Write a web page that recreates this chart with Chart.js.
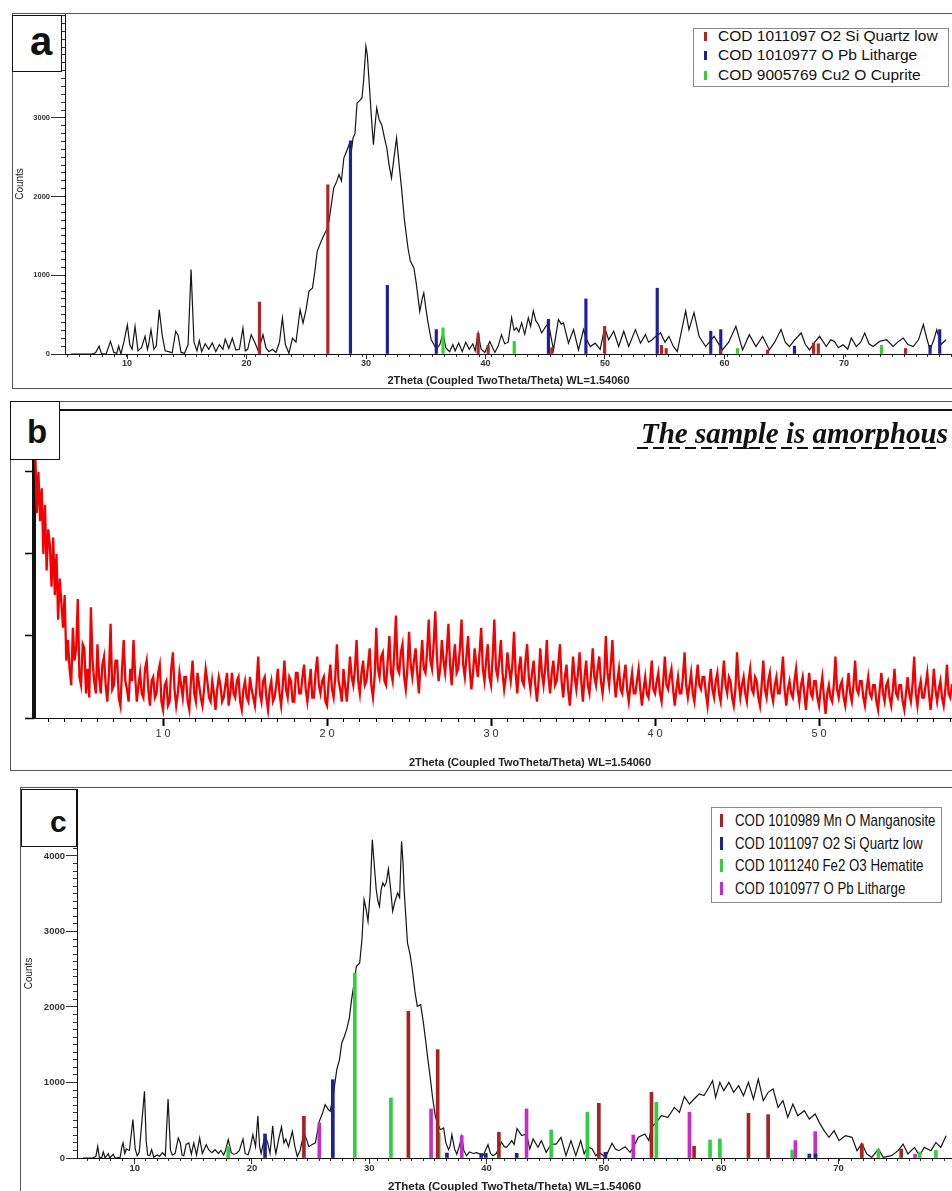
<!DOCTYPE html>
<html>
<head>
<meta charset="utf-8">
<script src="https://cdn.jsdelivr.net/npm/chart.js@4.4.1/dist/chart.umd.min.js"></script>
<style>
html, body { margin: 0; padding: 0; background: #fff; width: 952px; height: 1191px; overflow: hidden; }
.frame { position: absolute; border: 1px solid #555; box-sizing: border-box; }
canvas { position: absolute; z-index: 1; }
.tag { position: absolute; border: 1.5px solid #111; background: #fff; box-sizing: border-box; z-index: 3; }
.letter { position: absolute; font-family: "Liberation Sans", Arial, sans-serif; font-weight: bold; line-height: 1; color: #111; z-index: 4; }
.legend { position: absolute; background: #fff; border: 1px solid #8a8a8a; box-sizing: border-box; z-index: 3; }
.legend div { position: absolute; white-space: nowrap; transform-origin: 0 50%; }
</style>
</head>
<body>

<!-- panel a -->
<div class="frame" style="left:12px;top:13px;width:1000px;height:376px"></div>
<canvas id="chartA" width="940" height="375" style="left:12px;top:13px"></canvas>
<div class="tag" style="left:12px;top:15px;width:50px;height:57px"></div>
<div class="letter" style="left:30px;top:21px;font-size:40px">a</div>
<div class="legend" id="legendA" style="left:693px;top:28px;width:256px;height:59px"></div>

<!-- panel b -->
<div class="frame" style="left:10px;top:401px;width:1000px;height:370px"></div>
<canvas id="chartB" width="1016" height="370" style="left:10px;top:401px"></canvas>
<div style="position:absolute;left:34px;top:409px;width:960px;height:2px;background:#111;z-index:2"></div>
<div class="tag" style="left:10px;top:401px;width:50px;height:59px"></div>
<div class="letter" style="left:27px;top:415px;font-size:33px">b</div>
<div style="position:absolute;left:641px;top:419px;font:italic bold 29px/29px 'Liberation Serif','Times New Roman',serif;color:#111;white-space:nowrap;z-index:2">The sample is amorphous</div>
<div style="position:absolute;left:637px;top:447px;width:304px;height:2px;background:repeating-linear-gradient(to right,#111 0 11px,transparent 11px 16px);z-index:2"></div>

<!-- panel c -->
<div class="frame" style="left:20px;top:787px;width:1000px;height:500px"></div>
<canvas id="chartC" width="932" height="411" style="left:20px;top:787px"></canvas>
<div class="tag" style="left:21px;top:789px;width:56px;height:58px"></div>
<div class="letter" style="left:50px;top:807px;font-size:30px">c</div>
<div class="legend" id="legendC" style="left:711px;top:807px;width:231px;height:96px"></div>

<script>
// ---- panel a : measured pattern [2theta, counts] and reference sticks ----
const aPattern = [
  [4.81,0],[6.6,0],[6.9,15],[7.2,100],[7.4,5],[7.8,0],[8.16,160],[8.45,20],[8.7,10],[8.86,100],
  [9.05,0],[9.3,150],[9.6,370],[9.8,120],[10.0,60],[10.25,350],[10.5,40],[10.8,80],[11.1,225],[11.3,60],
  [11.4,120],[11.6,310],[11.85,60],[12.05,100],[12.3,563],[12.55,240],[12.8,40],[13.1,30],[13.4,15],[13.7,290],
  [13.9,240],[14.15,20],[14.45,10],[14.75,120],[15.0,1072],[15.25,150],[15.5,40],[15.7,170],[15.9,30],[16.2,130],
  [16.5,60],[16.8,140],[17.1,30],[17.4,120],[17.7,60],[17.9,190],[18.2,70],[18.5,200],[18.8,50],[19.1,60],
  [19.4,330],[19.6,40],[19.8,60],[20.1,245],[20.4,150],[20.7,40],[21.1,245],[21.35,80],[21.6,30],[21.9,60],
  [22.2,20],[22.5,150],[22.75,457],[23.0,120],[23.3,10],[23.6,200],[23.9,150],[24.25,563],[24.5,394],[24.75,560],
  [25.0,796],[25.3,840],[25.5,1050],[25.7,1305],[26.0,1420],[26.3,1517],[26.5,1580],[26.7,1686],[26.9,1900],[27.1,2110],
  [27.35,2190],[27.55,2279],[27.75,2200],[27.96,2490],[28.2,2580],[28.4,2660],[28.6,2580],[28.74,2745],[28.9,2800],[29.08,3190],
  [29.3,3220],[29.5,3253],[29.65,3500],[29.83,3910],[29.95,3800],[30.1,3465],[30.3,3000],[30.47,2660],[30.6,2900],[30.75,3126],
  [30.95,2980],[31.17,2914],[31.4,2750],[31.6,2618],[31.8,2400],[32.0,2237],[32.2,2480],[32.43,2745],[32.65,2400],[32.85,2110],
  [33.1,1700],[33.4,1347],[33.6,1180],[33.9,1093],[34.1,900],[34.4,542],[34.6,700],[34.74,775],[34.9,600],[35.08,415],
  [35.37,181],[35.6,120],[35.8,60],[36.1,120],[36.37,267],[36.6,80],[36.93,30],[37.2,120],[37.4,40],[37.7,140],
  [38.0,30],[38.3,150],[38.6,60],[38.9,130],[39.1,40],[39.35,267],[39.6,60],[39.91,20],[40.34,160],[40.77,20],
  [41.05,100],[41.33,246],[41.6,130],[41.9,150],[42.19,461],[42.4,300],[42.61,332],[42.8,280],[43.04,396],[43.3,250],
  [43.61,461],[43.8,350],[44.03,547],[44.25,420],[44.46,375],[44.74,267],[45.0,330],[45.31,396],[45.74,52],[46.16,440],
  [46.4,380],[46.59,396],[47.01,138],[47.44,310],[47.86,52],[48.29,310],[48.5,200],[48.86,95],[49.28,138],[49.7,60],
  [50.08,332],[50.42,181],[50.85,289],[51.27,95],[51.7,289],[52.12,95],[52.69,310],[53.12,138],[53.54,246],[53.8,150],
  [54.11,181],[54.45,230],[54.82,267],[55.2,150],[55.53,224],[55.9,100],[56.24,30],[56.95,547],[57.23,310],[57.66,526],
  [58.09,224],[58.65,95],[59.36,224],[60.07,52],[60.6,150],[61.21,353],[61.78,52],[62.35,246],[62.91,95],[63.48,224],
  [64.05,52],[64.5,150],[65.04,310],[65.4,150],[65.75,95],[66.2,180],[66.75,267],[67.1,120],[67.46,52],[67.9,150],
  [68.31,224],[68.88,95],[69.25,180],[69.58,160],[69.9,80],[70.3,116],[70.7,60],[71.0,203],[71.43,95],[71.8,150],
  [72.14,267],[72.5,130],[72.85,95],[73.4,160],[73.99,181],[74.55,95],[75.0,160],[75.41,203],[75.8,120],[76.26,95],
  [76.7,180],[77.11,375],[77.4,200],[77.68,52],[78.0,180],[78.25,310],[78.6,120],[79.04,181]
];
const aQuartz = [[20.8,660],[26.6,2150],[39.35,260],[40.2,110],[45.6,80],[50.08,350],[54.9,110],[55.3,70],[59.9,60],[63.9,50],[67.8,140],[68.2,130],[75.6,70]];
const aLitharge = [[28.52,2710],[31.65,872],[35.8,310],[45.31,440],[48.49,700],[54.54,836],[59.08,290],[59.93,310],[66.18,100],[77.68,110],[78.5,310]];
const aCuprite = [[36.37,332],[42.41,160],[61.35,70],[73.56,110]];
const aPhases = ['COD 1011097 O2 Si Quartz low', 'COD 1010977 O Pb Litharge', 'COD 9005769 Cu2 O Cuprite'];
const aXTicks = [10, 20, 30, 40, 50, 60, 70];
const aYTicks = [0, 1000, 2000, 3000, 4000];

// ---- panel b : amorphous scan, counts every 0.1 deg starting at 2.2 ----
const bStart = 2.2, bStep = 0.1;
const bCounts = [
  330,250,300,240,280,200,260,180,230,210,
  160,220,150,200,120,170,140,110,150,70,
  95,60,40,110,70,85,145,50,40,90,
  85,30,60,25,135,70,45,30,90,50,
  30,65,75,40,20,55,115,35,40,70,
  70,25,15,60,95,45,35,20,60,45,
  95,50,20,40,55,30,25,60,70,35,
  15,45,50,25,30,55,65,20,10,40,
  45,15,20,60,80,35,15,30,55,40,
  25,50,50,20,10,45,70,30,20,55,
  40,25,15,35,60,45,25,20,45,30,
  10,35,50,40,20,25,40,55,15,30,
  55,30,25,45,50,20,10,35,45,25,
  20,50,35,25,15,40,75,30,20,45,
  50,25,10,35,45,20,25,40,60,30,
  15,40,70,35,25,50,45,20,20,55,
  55,30,30,50,65,35,20,40,60,25,
  25,55,75,40,30,45,50,20,15,45,
  65,35,25,50,90,45,35,20,60,40,
  20,45,75,50,40,60,95,45,30,55,
  70,40,45,65,85,40,25,50,110,60,
  50,75,80,45,40,70,100,55,45,80,
  125,60,55,80,90,50,35,60,105,65,
  50,70,85,55,30,65,95,60,55,80,
  120,70,60,90,130,75,45,60,95,70,
  55,80,115,65,40,70,90,55,60,85,
  120,65,50,75,100,60,35,55,85,65,
  50,80,110,60,45,70,90,50,40,75,
  120,60,50,70,95,55,35,50,80,60,
  45,65,105,55,30,60,75,45,40,70,
  90,50,35,55,70,40,20,45,85,55,
  40,60,95,50,30,55,70,40,45,65,
  90,45,25,50,65,35,15,40,75,50,
  35,55,80,45,20,50,70,40,30,55,
  85,50,40,60,75,45,30,50,100,55,
  40,65,95,50,25,45,60,35,30,50,
  65,35,20,40,55,30,30,45,60,35,
  15,35,50,30,25,45,70,35,30,45,
  55,30,20,45,75,40,35,50,60,35,
  15,35,50,30,30,50,80,40,25,40,
  55,30,20,45,65,40,35,50,50,30,
  15,40,60,35,25,45,55,30,20,45,
  70,40,30,50,45,25,15,35,80,45,
  25,40,50,30,20,45,60,35,30,50,
  45,25,15,40,70,35,25,45,55,30,
  20,40,50,30,30,50,75,35,15,35,
  45,30,25,45,60,35,20,40,50,30,
  10,35,55,30,25,45,45,25,15,35,
  50,25,5,30,40,25,20,40,75,35,
  25,40,45,25,15,35,55,30,20,40,
  70,35,30,45,45,25,15,35,50,30,
  25,40,40,20,10,35,55,30,20,40,
  45,25,15,35,60,30,25,40,40,20,
  10,30,50,30,20,40,75,30,15,35,
  45,25,25,40,55,30,10,30,60,35,
  20,35,45,25,15,35,65,30,25,40,
  40
];
const bXTicks = [10, 20, 30, 40, 50, 60];
const bYTicks = [0, 100, 200, 300];

// ---- panel c : measured pattern and reference sticks ----
const cPattern = [
  [5.08,0],[5.9,0],[6.2,20],[6.36,155],[6.5,10],[6.7,0],[6.84,80],[7.0,0],[7.27,60],[7.4,0],
  [7.7,50],[7.85,0],[8.3,10],[8.45,150],[8.55,200],[8.7,60],[8.83,120],[9.1,100],[9.4,508],[9.6,120],
  [9.77,30],[9.95,80],[10.4,883],[10.55,220],[10.68,40],[10.85,30],[11.02,110],[11.2,10],[11.5,40],[11.7,20],
  [11.95,70],[12.2,30],[12.44,781],[12.65,100],[12.81,40],[13.05,60],[13.32,265],[13.5,200],[13.65,40],[13.8,30],
  [14.0,180],[14.23,200],[14.45,50],[14.66,200],[14.9,40],[15.17,265],[15.4,60],[15.74,177],[15.95,110],[16.22,70],
  [16.5,110],[16.79,60],[17.0,100],[17.25,40],[17.4,100],[17.64,243],[17.9,70],[18.1,50],[18.35,60],[18.6,100],
  [18.92,250],[19.1,60],[19.35,40],[19.55,140],[19.77,310],[20.0,150],[20.2,560],[20.35,150],[20.48,60],[20.82,300],
  [21.05,200],[21.25,60],[21.48,428],[21.65,150],[21.76,60],[22.0,250],[22.24,410],[22.45,200],[22.61,250],[22.85,150],
  [23.18,353],[23.4,150],[23.61,20],[23.85,100],[24.18,330],[24.4,250],[24.6,150],[24.9,180],[25.17,200],[25.51,485],
  [25.8,600],[26.02,706],[26.25,650],[26.45,620],[26.68,795],[27.02,1170],[27.25,1300],[27.45,1523],[27.65,1600],[27.87,1700],
  [28.1,1850],[28.3,2097],[28.5,2300],[28.72,2540],[29.0,2583],[29.2,2900],[29.38,3422],[29.55,3300],[29.72,3135],[29.9,3500],
  [30.09,4216],[30.25,3900],[30.43,3554],[30.58,3400],[30.71,3333],[30.85,3550],[31.0,3642],[31.15,3600],[31.3,3650],[31.48,3828],
  [31.65,3600],[31.85,3267],[32.05,3400],[32.28,3510],[32.45,3450],[32.62,4194],[32.75,3900],[32.84,3554],[33.13,2848],[33.35,2700],
  [33.55,2494],[33.78,2200],[33.98,2009],[34.27,2030],[34.5,1800],[34.69,1567],[34.9,1300],[35.12,1037],[35.3,800],[35.54,552],
  [35.75,450],[35.97,375],[36.25,397],[36.45,200],[36.68,110],[36.8,150],[36.97,309],[37.2,120],[37.39,50],[37.6,150],
  [37.82,287],[38.0,100],[38.24,30],[38.5,80],[38.81,60],[39.1,70],[39.44,50],[39.66,30],[40.09,177],[40.3,60],
  [40.52,31],[40.8,60],[41.0,120],[41.25,210],[41.5,150],[41.7,141],[42.0,200],[42.14,230],[42.35,180],[42.6,390],
  [43.0,296],[43.42,318],[43.7,119],[43.99,252],[44.41,141],[44.7,230],[45.12,75],[45.55,185],[45.98,185],[46.4,274],
  [46.83,31],[47.26,230],[47.68,31],[48.1,230],[48.4,53],[48.68,150],[49.1,119],[49.4,31],[49.67,75],[50.0,40],
  [50.24,9],[50.81,194],[51.1,120],[51.4,97],[51.94,150],[52.37,75],[52.65,141],[53.08,274],[53.65,318],[53.99,230],
  [54.22,406],[54.64,472],[55.07,561],[55.64,539],[56.2,671],[56.63,605],[57.06,812],[57.5,715],[57.9,781],[58.34,848],
  [58.76,826],[59.19,936],[59.5,1024],[59.76,804],[60.13,1002],[60.47,892],[60.9,1002],[61.32,870],[61.75,958],[62.17,826],
  [62.6,1002],[63.03,780],[63.45,1046],[63.88,759],[64.3,870],[64.73,914],[65.16,671],[65.58,759],[66.0,539],[66.44,715],
  [66.86,560],[67.43,627],[67.86,517],[68.37,583],[68.71,472],[69.14,362],[69.56,274],[70.0,362],[70.42,230],[70.98,296],
  [71.55,274],[71.98,97],[72.4,194],[72.83,53],[73.26,9],[73.83,119],[74.25,9],[74.96,31],[75.53,97],[75.96,185],
  [76.38,53],[76.95,141],[77.38,31],[77.8,141],[78.37,97],[78.8,207],[79.22,141],[79.68,296]
];
const cManganosite = [[24.18,552],[33.21,1943],[35.74,1435],[41.03,340],[49.67,724],[54.22,870],[57.9,155],[62.6,592],[64.3,574],[72.4,185],[75.8,119]];
const cQuartz = [[20.82,318],[26.68,1037],[36.54,66],[39.5,60],[39.9,60],[42.57,62],[50.24,75],[67.86,53],[68.4,53]];
const cHematite = [[17.64,155],[28.58,2450],[31.7,795],[35.83,331],[45.55,371],[48.68,605],[54.64,737],[59.28,238],[60.13,252],[66.38,106],[73.83,119],[77.4,80],[78.8,100]];
const cLitharge = [[25.51,464],[35.17,649],[37.82,296],[43.42,650],[52.65,305],[57.5,605],[66.66,230],[68.37,349],[77.0,50]];
const cPhases = ['COD 1010989 Mn O Manganosite', 'COD 1011097 O2 Si Quartz low', 'COD 1011240 Fe2 O3 Hematite', 'COD 1010977 O Pb Litharge'];
const cXTicks = [10, 20, 30, 40, 50, 60, 70];
const cYTicks = [0, 1000, 2000, 3000, 4000];

// colours
const aColors = ['#b32424', '#1f1f9c', '#2fd42f'];
const cColors = ['#a82222', '#1e2390', '#2fcf3f', '#c82cc8'];
const AXIS_TITLE = '2Theta (Coupled TwoTheta/Theta) WL=1.54060';

Chart.defaults.font.family = "'Liberation Sans', Arial, sans-serif";

function toXY(pairs) { return pairs.map(p => ({ x: p[0], y: p[1] })); }

function sticks(pairs, color, w) {
  return { type: 'bar', data: toXY(pairs), backgroundColor: color, barThickness: w, stack: 'ref', borderWidth: 0 };
}
function trace(data, color, width) {
  return { type: 'line', data, borderColor: color, borderWidth: width, pointRadius: 0, tension: 0, fill: false };
}
// force an axis box to a fixed thickness
function fit(dim, v) {
  return s => { s[dim] = v; s.paddingTop = 0; s.paddingBottom = 0; s.paddingLeft = 0; s.paddingRight = 0; };
}
function fixedTicks(list) {
  return s => { s.ticks = list.map(v => ({ value: v })); };
}

function makeChart(id, datasets, o) {
  const tickColor = o.tickColor || '#333';
  return new Chart(document.getElementById(id), {
    type: 'line',
    data: { datasets },
    options: {
      responsive: false, animation: false, devicePixelRatio: 1, events: [],
      layout: { autoPadding: false, padding: { top: o.top, left: 0, right: 0, bottom: 0 } },
      plugins: { legend: { display: false }, tooltip: { enabled: false } },
      scales: {
        x: {
          type: 'linear', position: 'bottom', min: o.xMin, max: o.xMax, weight: 0, afterFit: fit('height', 0),
          ticks: { display: false, stepSize: 1, includeBounds: false, autoSkip: false },
          grid: { drawOnChartArea: false, tickLength: o.xMinorLen, tickColor, tickWidth: 1 },
          border: { display: true, color: '#111', width: 1 }
        },
        xMaj: {
          type: 'linear', position: 'bottom', min: o.xMin, max: o.xMax, weight: 1,
          afterFit: fit('height', o.xHeight), afterBuildTicks: fixedTicks(o.xTicks),
          ticks: { autoSkip: false, maxRotation: 0, padding: o.xPad,
                   color: '#333', font: o.xFont, callback: o.xLabel || (v => String(v)) },
          grid: { drawOnChartArea: false, tickLength: o.xMajorLen, tickColor, tickWidth: o.xMajorWidth || 1 },
          border: { display: false },
          title: { display: true, text: AXIS_TITLE, color: '#222', font: o.titleFont, padding: { top: 0, bottom: o.titlePad } }
        },
        y: {
          type: 'linear', position: 'left', min: 0, max: o.yMax, stacked: false, weight: 0, afterFit: fit('width', 0),
          ticks: { display: false, stepSize: o.yMinorStep, includeBounds: false, autoSkip: false },
          grid: { drawOnChartArea: false, drawTicks: o.yMinorLen > 0, tickLength: o.yMinorLen, tickColor, tickWidth: 1 },
          border: { display: true, color: '#111', width: o.yBorder || 1 }
        },
        yMaj: {
          type: 'linear', position: 'left', min: 0, max: o.yMax, weight: 1,
          afterFit: fit('width', o.yWidth), afterBuildTicks: fixedTicks(o.yTicks),
          ticks: { autoSkip: false, padding: o.yPad,
                   color: '#333', font: o.yFont, callback: o.yLabel || (v => String(v)) },
          grid: { drawOnChartArea: false, tickLength: o.yMajorLen, tickColor, tickWidth: o.yMajorWidth || 1 },
          border: { display: false },
          title: { display: !!o.yTitle, text: o.yTitle || '', color: '#222', font: { size: 10 }, padding: { top: o.yTitlePad, bottom: 0 } }
        }
      }
    }
  });
}

// panel a
makeChart('chartA', [
  sticks(aQuartz, aColors[0], 2.5), sticks(aLitharge, aColors[1], 2.5), sticks(aCuprite, aColors[2], 2.5),
  trace(toXY(aPattern), '#151515', 1.2)
], {
  top: 1, xMin: 4.81, xMax: 79.04, xHeight: 34, xMinorLen: 3, xMajorLen: 5, xPad: 0, xTicks: aXTicks,
  xFont: { size: 9, weight: 'bold', lineHeight: 1 }, titleFont: { size: 11, weight: 'bold' }, titlePad: 0,
  yMax: 4320, yMinorStep: 100, yMinorLen: 4, yTicks: aYTicks, yMajorLen: 14, yPad: 1, yWidth: 53,
  yFont: { size: 7.5, weight: 'bold' }, yTitle: 'Counts', yTitlePad: 2
});

// panel b
const bScan = bCounts.map((v, i) => ({ x: +(bStart + i * bStep).toFixed(2), y: v }));
makeChart('chartB', [trace(bScan, '#f40000', 2.3)], {
  top: 9, xMin: 2.13, xMax: 62.62, xHeight: 53, xMinorLen: 4, xMajorLen: 8, xMajorWidth: 2, xPad: 2.5, xTicks: bXTicks,
  xFont: { size: 11, lineHeight: 1 }, xLabel: v => String(v).split('').join(' '),
  titleFont: { size: 11, weight: 'bold', lineHeight: 1 }, titlePad: 2.5, tickColor: '#000',
  yMax: 375.6, yMinorStep: 100, yMinorLen: 0, yBorder: 4, yTicks: bYTicks, yMajorLen: 9, yMajorWidth: 1.5,
  yPad: 0, yWidth: 24, yFont: { size: 8 }, yLabel: () => '', yTitle: '', yTitlePad: 0
});

// panel c
makeChart('chartC', [
  sticks(cManganosite, cColors[0], 3), sticks(cQuartz, cColors[1], 3), sticks(cHematite, cColors[2], 3), sticks(cLitharge, cColors[3], 3),
  trace(toXY(cPattern), '#151515', 1.2)
], {
  top: 2, xMin: 5.08, xMax: 79.68, xHeight: 40, xMinorLen: 3, xMajorLen: 6, xPad: 0, xTicks: cXTicks,
  xFont: { size: 9.5, weight: 'bold', lineHeight: 1 }, titleFont: { size: 11.5, weight: 'bold' }, titlePad: 4,
  yMax: 4887, yMinorStep: 100, yMinorLen: 4, yTicks: cYTicks, yMajorLen: 11, yPad: 1, yWidth: 57,
  yFont: { size: 9.5, weight: 'bold' }, yTitle: 'Counts', yTitlePad: 3
});

// legends
function buildLegend(id, names, colors, o) {
  const box = document.getElementById(id);
  names.forEach((name, i) => {
    const c = o.first + i * o.step;
    const m = document.createElement('div');
    m.style.cssText = `left:${o.markX}px;top:${c - o.markH / 2}px;width:${o.markW}px;height:${o.markH}px;background:${colors[i]}`;
    const t = document.createElement('div');
    t.style.cssText = `left:${o.textX}px;top:${c - 0.49 * o.size}px;font-size:${o.size}px;line-height:${o.size}px;` +
      `font-family:'Liberation Sans',Arial,sans-serif;color:#111;transform:scaleX(${o.sx})`;
    t.textContent = name;
    box.append(m, t);
  });
}
buildLegend('legendA', aPhases, aColors, { first: 7, step: 19.5, markX: 9.5, markW: 3, markH: 9, textX: 24, size: 14.5, sx: 1.07 });
buildLegend('legendC', cPhases, cColors, { first: 12.5, step: 22.5, markX: 8, markW: 2.5, markH: 13, textX: 23, size: 17, sx: 0.78 });
</script>
</body>
</html>
